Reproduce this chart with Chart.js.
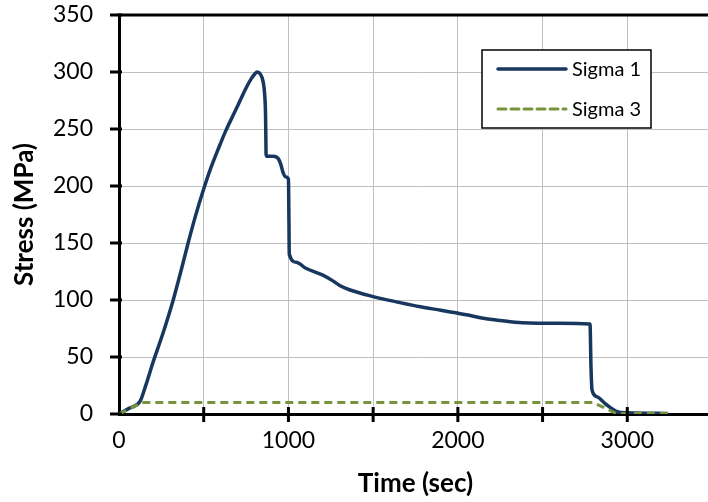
<!DOCTYPE html>
<html>
<head>
<meta charset="utf-8">
<script src="https://cdn.jsdelivr.net/npm/chart.js@4/dist/chart.umd.min.js"></script>
<style>
  html, body { margin: 0; padding: 0; overflow: hidden; background: #fff; }
  canvas { display: block; }
</style>
</head>
<body>
<canvas id="stressChart" width="712" height="502"></canvas>
<script>
// values
const sigma1Time = [0, 60, 124, 160, 200, 260, 320, 365, 408, 452, 497, 540, 590, 632, 680, 715, 750, 780, 800, 815, 835, 850, 860, 865, 867, 868, 875, 910, 940, 955, 968, 985, 1000, 1003, 1005, 1050, 1100, 1200, 1260, 1300, 1360, 1500, 1650, 1780, 1900, 2050, 2150, 2250, 2380, 2600, 2780, 2786, 2792, 2823, 2870, 2940, 3000, 3240];
const sigma1Stress = [0, 5, 11, 26, 45, 71, 100, 125, 150, 174, 196, 215, 234, 249, 264, 275, 286, 294, 298, 300, 298, 292, 280, 262, 240, 228, 226, 226, 224, 219, 212, 208, 206, 170, 140, 133, 128, 122, 117, 113, 109, 103, 98, 94, 91, 87, 84, 82, 80, 79.5, 79, 40, 21, 15, 9, 2, 1, 0.5];
const sigma3Time = [0, 135, 2800, 2935, 3240];
const sigma3Stress = [0, 10, 10, 0.5, 0.5];
const xTicks = [0, 1000, 2000, 3000];

const toPoints = (xs, ys) => xs.map((x, i) => ({ x: x, y: ys[i] }));

// draws the top border, ticks that cross the axes and the boxed legend
const framePlugin = {
  id: 'frame',
  afterDraw(chart) {
    const ctx = chart.ctx;
    const area = chart.chartArea;
    const xs = chart.scales.x;
    const ys = chart.scales.y;
    ctx.save();
    ctx.strokeStyle = '#000';
    ctx.lineWidth = 3;
    ctx.beginPath();
    ctx.moveTo(area.left - 1.5, area.top);
    ctx.lineTo(area.right, area.top);
    ctx.stroke();

    ys.ticks.forEach(t => {
      const y = ys.getPixelForValue(t.value);
      ctx.beginPath();
      ctx.moveTo(area.left - 9, y);
      ctx.lineTo(area.left + 3, y);
      ctx.stroke();
    });
    xs.ticks.forEach(t => {
      if (t.value === 0) return;
      const x = xs.getPixelForValue(t.value);
      ctx.beginPath();
      ctx.moveTo(x, area.bottom - 7);
      ctx.lineTo(x, area.bottom + 8);
      ctx.stroke();
    });

    // legend
    const bx = 482, by = 50, bw = 169, bh = 78;
    ctx.fillStyle = '#fff';
    ctx.fillRect(bx, by, bw, bh);
    ctx.lineWidth = 1.5;
    ctx.strokeRect(bx, by, bw, bh);
    const rows = [69, 109];
    chart.data.datasets.forEach((ds, i) => {
      const y = rows[i];
      ctx.strokeStyle = ds.borderColor;
      ctx.lineWidth = ds.borderWidth;
      ctx.lineCap = 'round';
      ctx.setLineDash(ds.borderDash || []);
      ctx.beginPath();
      ctx.moveTo(498, y);
      ctx.lineTo(566, y);
      ctx.stroke();
      ctx.setLineDash([]);
      ctx.fillStyle = '#000';
      ctx.font = '20px Lato';
      ctx.textBaseline = 'middle';
      ctx.textAlign = 'left';
      ctx.fillText(ds.label, 572, y + 1);
    });
    ctx.restore();
  }
};

new Chart(document.getElementById('stressChart'), {
  type: 'line',
  data: {
    datasets: [{
      label: 'Sigma 1',
      data: toPoints(sigma1Time, sigma1Stress),
      borderColor: '#17375e',
      borderWidth: 3.5,
      pointRadius: 0,
      cubicInterpolationMode: 'monotone',
      order: 1
    }, {
      label: 'Sigma 3',
      data: toPoints(sigma3Time, sigma3Stress),
      borderColor: '#77933c',
      borderWidth: 3,
      borderDash: [8, 5],
      pointRadius: 0,
      tension: 0,
      order: 0
    }]
  },
  options: {
    responsive: false,
    animation: false,
    layout: { padding: { top: 15, right: 0, left: 0, bottom: 0 } },
    plugins: {
      legend: { display: false },
      tooltip: { enabled: false }
    },
    scales: {
      x: {
        type: 'linear',
        min: 0,
        max: 3500,
        afterFit: s => { s.height = 88; s.paddingLeft = 0; s.paddingRight = 0; },
        ticks: {
          stepSize: 500,
          autoSkip: false,
          maxRotation: 0,
          padding: 13,
          color: '#000',
          font: { family: 'Lato', size: 23 },
          callback: v => (xTicks.includes(v) ? String(v) : '')
        },
        grid: { color: '#bfbfbf', lineWidth: 1, drawTicks: false },
        border: { color: '#000', width: 3 },
        title: {
          display: true,
          text: 'Time (sec)',
          color: '#000',
          font: { family: 'Lato', size: 26, weight: 'bold' },
          padding: { top: 0, bottom: 3 }
        }
      },
      y: {
        min: 0,
        max: 350,
        afterFit: s => { s.width = 119; s.paddingTop = 0; s.paddingBottom = 0; },
        ticks: {
          stepSize: 50,
          padding: 26,
          color: '#000',
          font: { family: 'Lato', size: 23 }
        },
        grid: { color: '#bfbfbf', lineWidth: 1, drawTicks: false },
        border: { color: '#000', width: 3 },
        title: {
          display: true,
          text: 'Stress (MPa)',
          color: '#000',
          font: { family: 'Lato', size: 26, weight: 'bold' },
          padding: { top: 9, bottom: 0 }
        }
      }
    }
  },
  plugins: [framePlugin]
});
</script>
</body>
</html>
